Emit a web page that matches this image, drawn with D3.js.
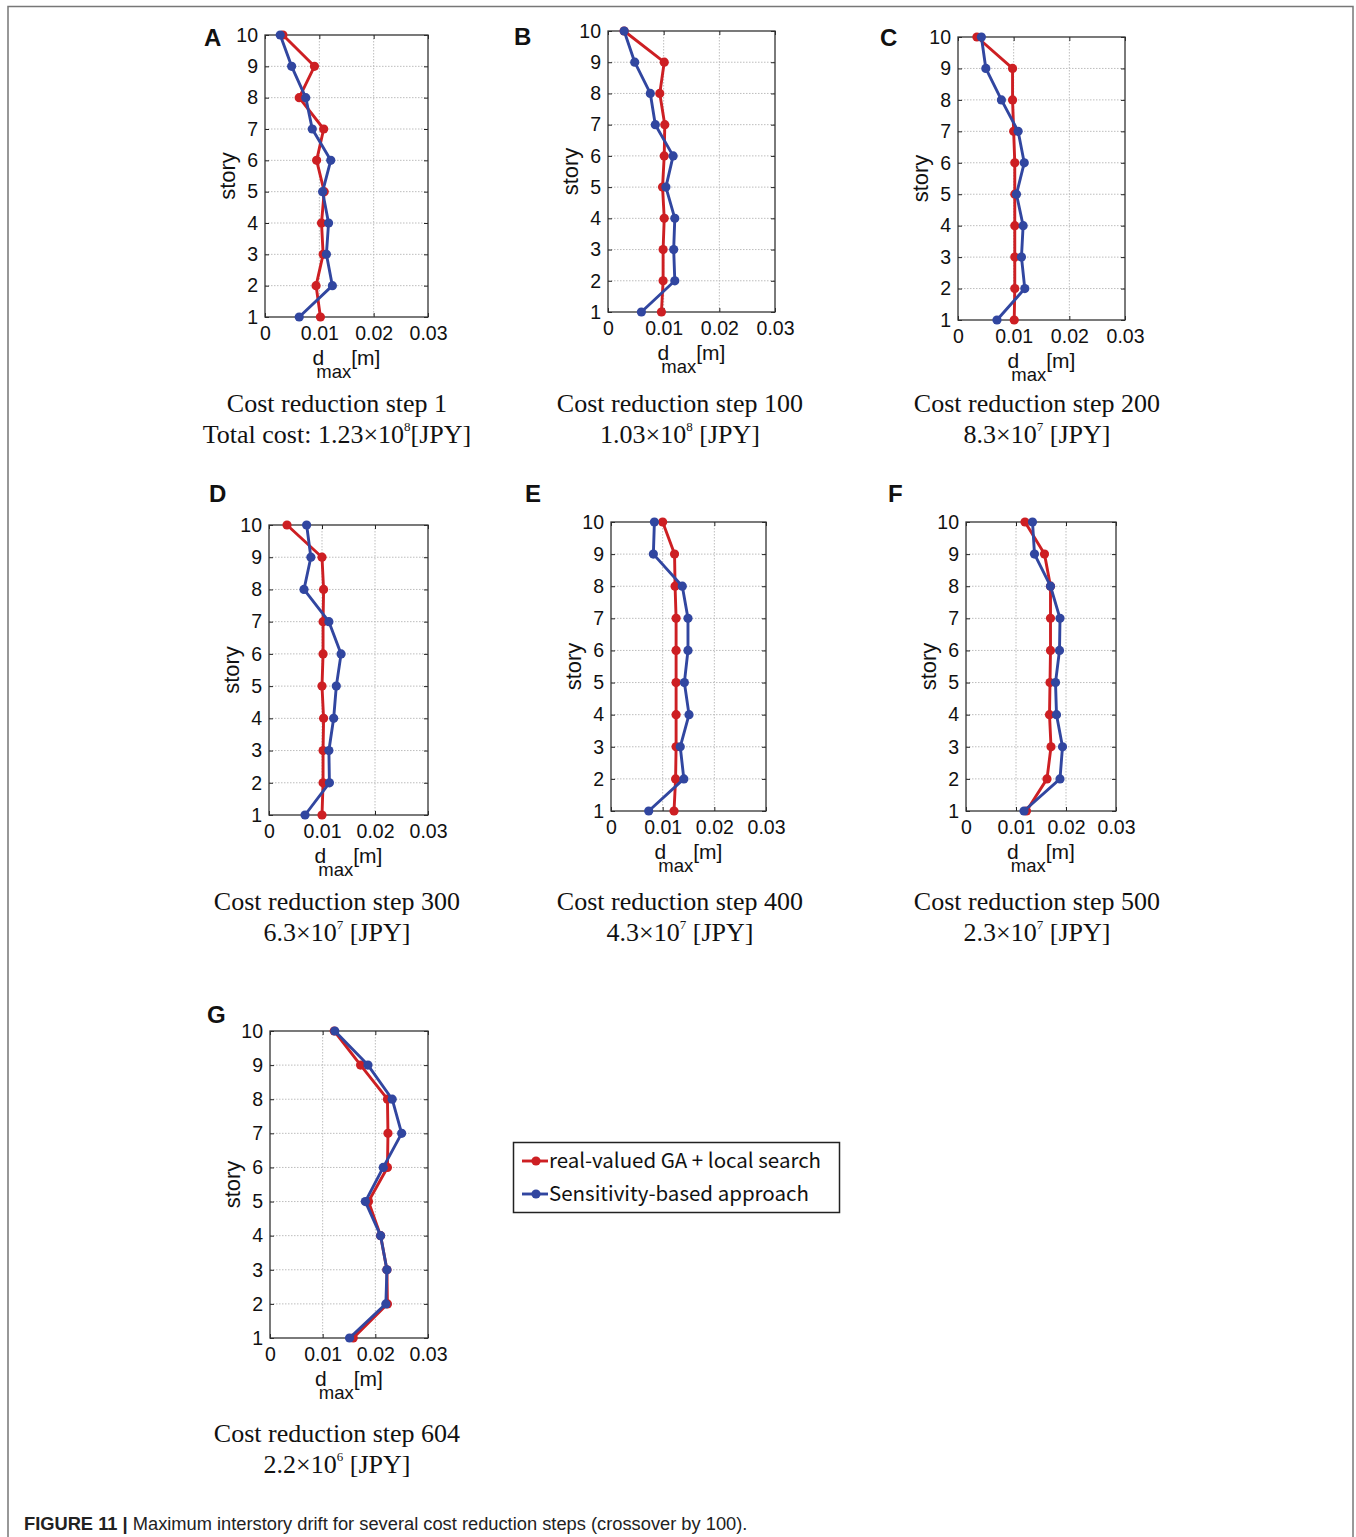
<!DOCTYPE html>
<html>
<head>
<meta charset="utf-8">
<script src="https://cdn.jsdelivr.net/npm/d3@7"></script>
<style>
  body { margin: 0; background: #fff; }
  svg { display: block; }
</style>
</head>
<body>
<svg id="fig"></svg>
<script>
// story numbers and x ticks
var stories = [1, 2, 3, 4, 5, 6, 7, 8, 9, 10];
var xTicks = [0, 0.01, 0.02, 0.03];
var panelLetters = ["A", "B", "C", "D", "E", "F", "G"];

// d_max per story (story 1 -> 10), real-valued GA + local search
var gaA = [0.0102, 0.0094, 0.0107, 0.0104, 0.0109, 0.0095, 0.0108, 0.0063, 0.0091, 0.0033];
var gaB = [0.0096, 0.0099, 0.0099, 0.0101, 0.0098, 0.0101, 0.0102, 0.0093, 0.0101, 0.0029];
var gaC = [0.0101, 0.0102, 0.0102, 0.0102, 0.0102, 0.0102, 0.0100, 0.0098, 0.0098, 0.0034];
var gaD = [0.0100, 0.0102, 0.0102, 0.0103, 0.0100, 0.0102, 0.0102, 0.0103, 0.0100, 0.0034];
var gaE = [0.0122, 0.0125, 0.0126, 0.0126, 0.0126, 0.0126, 0.0126, 0.0124, 0.0123, 0.0100];
var gaF = [0.0121, 0.0162, 0.0170, 0.0167, 0.0168, 0.0169, 0.0169, 0.0169, 0.0157, 0.0118];
var gaG = [0.0158, 0.0223, 0.0222, 0.0210, 0.0187, 0.0223, 0.0224, 0.0223, 0.0172, 0.0122];

// sensitivity-based approach
var sensA = [0.0063, 0.0124, 0.0113, 0.0117, 0.0106, 0.0121, 0.0087, 0.0075, 0.0049, 0.0028];
var sensB = [0.0060, 0.0120, 0.0118, 0.0120, 0.0104, 0.0117, 0.0085, 0.0076, 0.0048, 0.0029];
var sensC = [0.0070, 0.0120, 0.0114, 0.0117, 0.0105, 0.0119, 0.0108, 0.0078, 0.0050, 0.0042];
var sensD = [0.0068, 0.0114, 0.0113, 0.0122, 0.0127, 0.0136, 0.0113, 0.0066, 0.0079, 0.0071];
var sensE = [0.0073, 0.0141, 0.0134, 0.0151, 0.0142, 0.0149, 0.0149, 0.0138, 0.0082, 0.0084];
var sensF = [0.0116, 0.0188, 0.0193, 0.0181, 0.0179, 0.0187, 0.0188, 0.0169, 0.0137, 0.0133];
var sensG = [0.0151, 0.0220, 0.0222, 0.0210, 0.0181, 0.0215, 0.0250, 0.0232, 0.0186, 0.0123];

var stepLabels = ["Cost reduction step 1", "Cost reduction step 100", "Cost reduction step 200",
                  "Cost reduction step 300", "Cost reduction step 400", "Cost reduction step 500",
                  "Cost reduction step 604"];
var costPrefix = ["Total cost: ", "", "", "", "", "", ""];
var costMantissa = ["1.23", "1.03", "8.3", "6.3", "4.3", "2.3", "2.2"];
var costExponent = ["8", "8", "7", "7", "7", "7", "6"];
var costSuffix = ["[JPY]", " [JPY]", " [JPY]", " [JPY]", " [JPY]", " [JPY]", " [JPY]"];

var seriesNames = ["real-valued GA + local search", "Sensitivity-based approach"];
var footerBold = "FIGURE 11 | ";
var footerText = "Maximum interstory drift for several cost reduction steps (crossover by 100).";

var gaData = [gaA, gaB, gaC, gaD, gaE, gaF, gaG];
var sensData = [sensA, sensB, sensC, sensD, sensE, sensF, sensG];

var red = "#cd1f23", blue = "#3146a0";

var svg = d3.select("#fig").attr("width", 1356).attr("height", 1537);

// outer frame
svg.append("rect")
   .attr("x", 8).attr("y", 6.5).attr("width", 1345).attr("height", 1560)
   .attr("fill", "none").attr("stroke", "#777").attr("stroke-width", 1.5);

// plot boxes: left, top, right, bottom
var boxes = [
  [265, 35, 428, 317],
  [608, 31, 775, 312],
  [958, 37, 1125, 320],
  [269, 525, 428, 815],
  [611, 522, 766, 811],
  [966, 522, 1116, 811],
  [270, 1031, 428, 1338]
];
var letterPos = [[204, 46], [514, 45], [880, 46], [209, 502], [525, 502], [888, 502], [207, 1023]];
var captionX = [337, 680, 1037, 337, 680, 1037, 337];
var captionY = [412, 412, 412, 910, 910, 910, 1442];

var fontSans = "'Liberation Sans', Arial, sans-serif";
var fontSerif = "'Liberation Serif', 'Times New Roman', serif";

boxes.forEach(function(b, i) {
  var x0 = b[0], y0 = b[1], x1 = b[2], y1 = b[3];
  var xScale = d3.scaleLinear().domain([0, 0.03]).range([x0, x1]);
  var yScale = d3.scaleLinear().domain([1, 10]).range([y1, y0]);
  var g = svg.append("g");

  // grid
  g.selectAll(".hgrid").data(stories.slice(1, 9)).enter().append("line")
   .attr("x1", x0).attr("x2", x1)
   .attr("y1", function(d) { return yScale(d); }).attr("y2", function(d) { return yScale(d); })
   .attr("stroke", "#bdbdbd").attr("stroke-width", 1).attr("stroke-dasharray", "1.5,1.5");
  g.selectAll(".vgrid").data(xTicks.slice(1, 3)).enter().append("line")
   .attr("y1", y0).attr("y2", y1)
   .attr("x1", function(d) { return xScale(d); }).attr("x2", function(d) { return xScale(d); })
   .attr("stroke", "#bdbdbd").attr("stroke-width", 1).attr("stroke-dasharray", "1.5,1.5");

  // axes
  var yAxis = g.append("g").attr("transform", "translate(" + x0 + ",0)")
    .call(d3.axisLeft(yScale).tickValues(stories).tickSize(-4).tickPadding(7).tickFormat(d3.format("d")));
  var xAxis = g.append("g").attr("transform", "translate(0," + y1 + ")")
    .call(d3.axisBottom(xScale).tickValues(xTicks).tickSize(-4).tickPadding(9)
      .tickFormat(function(d) { return d === 0 ? "0" : d3.format(".2f")(d); }));
  g.append("g").attr("transform", "translate(" + x1 + ",0)")
    .call(d3.axisRight(yScale).tickValues(stories).tickSize(-4).tickFormat(""));
  g.append("g").attr("transform", "translate(0," + y0 + ")")
    .call(d3.axisTop(xScale).tickValues(xTicks).tickSize(-4).tickFormat(""));
  g.selectAll(".domain").remove();
  g.selectAll(".tick line").attr("stroke", "#222");
  [yAxis, xAxis].forEach(function(a) {
    a.selectAll("text").attr("font-family", fontSans).attr("font-size", 19.5).attr("fill", "#111");
  });

  g.append("rect")
   .attr("x", x0).attr("y", y0).attr("width", x1 - x0).attr("height", y1 - y0)
   .attr("fill", "none").attr("stroke", "#333").attr("stroke-width", 1.3);

  // series
  var line = d3.line()
    .x(function(d) { return xScale(d.v); })
    .y(function(d) { return yScale(d.s); });
  [[gaData[i], red], [sensData[i], blue]].forEach(function(sr) {
    var pts = sr[0].map(function(v, k) { return { s: stories[k], v: v }; });
    g.append("path").datum(pts).attr("d", line)
     .attr("fill", "none").attr("stroke", sr[1]).attr("stroke-width", 2.9)
     .attr("stroke-linejoin", "round");
    g.selectAll(null).data(pts).enter().append("circle")
     .attr("cx", function(d) { return xScale(d.v); })
     .attr("cy", function(d) { return yScale(d.s); })
     .attr("r", 4.6).attr("fill", sr[1]);
  });

  // y label
  var cy = (y0 + y1) / 2;
  g.append("text")
   .attr("transform", "translate(" + (x0 - 30) + "," + cy + ") rotate(-90)")
   .attr("text-anchor", "middle")
   .attr("font-family", fontSans).attr("font-size", 22).attr("fill", "#111")
   .text("story");

  // x label d_max [m]
  var xl = g.append("text")
   .attr("x", (x0 + x1) / 2).attr("y", y1 + 48)
   .attr("text-anchor", "middle")
   .attr("font-family", fontSans).attr("font-size", 21).attr("fill", "#111");
  xl.append("tspan").text("d");
  xl.append("tspan").attr("dx", -8).attr("dy", 13).attr("font-size", 18.5).text("max");
  xl.append("tspan").attr("dy", -13).text("[m]");

  // panel letter
  g.append("text")
   .attr("x", letterPos[i][0]).attr("y", letterPos[i][1])
   .attr("font-family", fontSans).attr("font-weight", "bold").attr("font-size", 24).attr("fill", "#111")
   .text(panelLetters[i]);

  // caption
  g.append("text")
   .attr("x", captionX[i]).attr("y", captionY[i])
   .attr("text-anchor", "middle")
   .attr("font-family", fontSerif).attr("font-size", 26).attr("fill", "#111")
   .text(stepLabels[i]);
  var c2 = g.append("text")
   .attr("x", captionX[i]).attr("y", captionY[i] + 31)
   .attr("text-anchor", "middle")
   .attr("font-family", fontSerif).attr("font-size", 26).attr("fill", "#111");
  c2.append("tspan").text(costPrefix[i] + costMantissa[i] + "\u00d710");
  c2.append("tspan").attr("dy", -12).attr("font-size", 13).text(costExponent[i]);
  c2.append("tspan").attr("dy", 12).text(costSuffix[i]);
});

// legend
var leg = svg.append("g");
leg.append("rect")
   .attr("x", 513.5).attr("y", 1142.5).attr("width", 326).attr("height", 70)
   .attr("fill", "#fff").attr("stroke", "#222").attr("stroke-width", 1.5);
[red, blue].forEach(function(c, k) {
  var ly = 1161 + k * 33;
  leg.append("line").attr("x1", 522).attr("x2", 548).attr("y1", ly).attr("y2", ly)
     .attr("stroke", c).attr("stroke-width", 2.9);
  leg.append("circle").attr("cx", 536).attr("cy", ly).attr("r", 4.6).attr("fill", c);
  leg.append("text").attr("x", 549).attr("y", ly + 7)
     .attr("font-family", "'Noto Sans CJK JP', 'Noto Sans', sans-serif").attr("font-size", 20.5)
     .attr("fill", "#111").text(seriesNames[k]);
});

// footer caption
var ft = svg.append("text").attr("x", 24).attr("y", 1530)
   .attr("font-family", "'Liberation Sans Narrow', 'Arial Narrow', sans-serif")
   .attr("font-size", 18.3).attr("fill", "#222");
ft.append("tspan").attr("font-weight", "bold").text(footerBold);
ft.append("tspan").text(footerText);
</script>
</body>
</html>
